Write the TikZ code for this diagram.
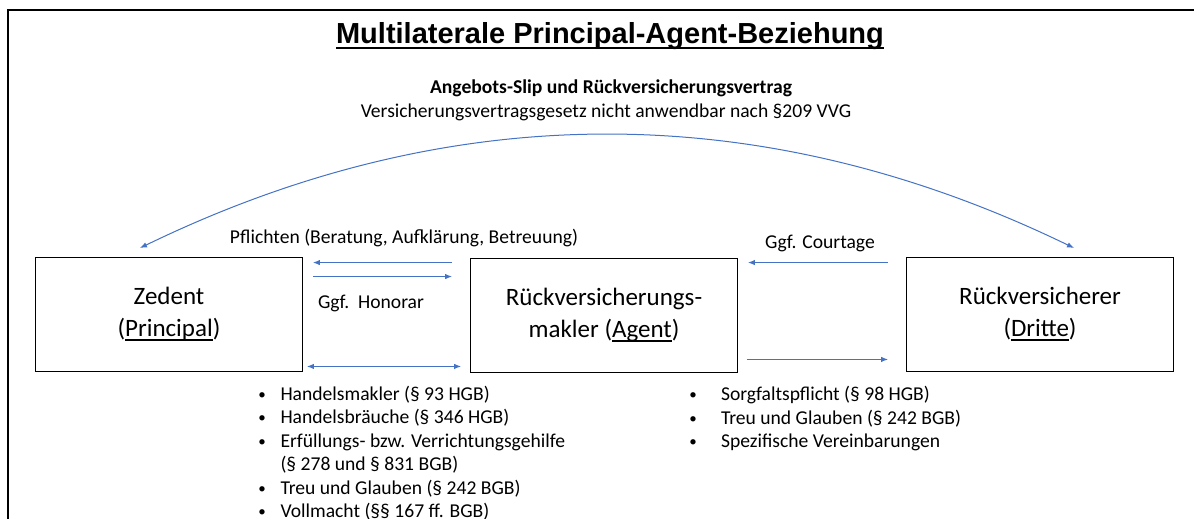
\documentclass[tikz,border=0pt]{standalone}
\usepackage{fontspec}
\setmainfont{Carlito}
\newfontfamily\headfont{Liberation Sans}
\usetikzlibrary{positioning,arrows.meta,calc}
\definecolor{flowblue}{RGB}{68,114,196}
% underline: thickness, depth below baseline, text
\newcommand\ulbox[3]{\leavevmode\setbox0\hbox{#3}\rlap{\rule[-#2]{\wd0}{#1}}\box0}
% small list bullet
\newcommand\dotmark{\makebox[9.8pt]{\raisebox{1pt}{\fontsize{15}{15}\selectfont •}}}

\begin{document}
\begin{tikzpicture}[
    x=1pt, y=-1pt,
    >={Latex[length=7pt,width=5.5pt]},
    party/.style={
        draw,
        line width=0.9pt,
        align=center,
        font=\fontsize{25}{32}\selectfont,
        minimum width=267pt,
        minimum height=114pt
    },
    flow/.style={draw=flowblue, line width=1pt},
    flowtext/.style={
        font=\fontsize{19.6}{23.5}\selectfont,
        inner sep=0pt
    },
    bullets/.style={
        font=\fontsize{19.6}{23.5}\selectfont,
        inner sep=0pt,
        anchor=north west,
        align=left
    }
]

\useasboundingbox (0,0) rectangle (1194,519);
\clip (0,0) rectangle (1194,519);

% FRAME
\draw[line width=2.2pt] (8,530) -- (8,10) -- (1200,10);

% HEADINGS
\node[font=\headfont\bfseries\fontsize{29}{34}\selectfont] (title) at (610,36)
{\ulbox{2.4pt}{6pt}{Multilaterale Principal-Agent-Beziehung}};

\node[flowtext, font=\bfseries\fontsize{19.6}{23.5}\selectfont] (slip) at (611,88)
{Angebots-Slip und Rückversicherungsvertrag};

\node[flowtext] (vvg) at (606,112)
{Versicherungsvertragsgesetz nicht anwendbar nach §209 VVG};

% THE THREE PARTIES
\node[party] (zedent) at (169,314)
{Zedent\\(\ulbox{1.2pt}{4pt}{Principal})};

\node[party] (makler) at (604,315)
{Rückversicherungs-\\makler (\ulbox{1.2pt}{4pt}{Agent})};

\node[party] (dritte) at (1040,314)
{Rückversicherer\\(\ulbox{1.2pt}{4pt}{Dritte})};

% CONTRACT ARC
\coordinate (arcL) at (140,248);
\coordinate (arcR) at (1074,248);
\draw[flow,<->] (arcL) .. controls (451,97) and (763,97) .. (arcR);

% ZEDENT - MAKLER
\draw[flow,<-,shorten <=10pt,shorten >=18pt] ([yshift=-6pt]zedent.north east) -- ([yshift=-6pt]makler.north west |- zedent.north);
\draw[flow,->,shorten <=10pt,shorten >=18pt] ([yshift=-20pt]zedent.north east) -- ([yshift=-20pt]makler.north west |- zedent.north);
\draw[flow,<->,shorten <=4pt,shorten >=9pt] ([yshift=5pt]zedent.south east) -- ([yshift=5pt]makler.south west |- zedent.south);

\node[flowtext] (duties) at (404,238)
{Pflichten (Beratung, Aufklärung, Betreuung)};
\node[flowtext] (fee) at (371,303)
{Ggf.\ \ Honorar};

% MAKLER - DRITTE
\draw[flow,<-,shorten <=10pt,shorten >=18pt] ([yshift=-6pt]makler.north east |- dritte.north) -- ([yshift=-6pt]dritte.north west);
\draw[flow,->,shorten <=9pt,shorten >=18pt] ([yshift=12pt]makler.south east |- dritte.south) -- ([yshift=12pt]dritte.south west);

\node[flowtext] (courtage) at (820,243)
{Ggf. Courtage};

% LEGAL BASES
\node[bullets] (brokerlist) at (257,383.5)
{\begin{tabular}{@{}l@{\hspace{13.5pt}}l@{}}
\dotmark & Handelsmakler (§ 93 HGB)\\
\dotmark & Handelsbräuche (§ 346 HGB)\\
\dotmark & Erfüllungs- bzw. Verrichtungsgehilfe\\
         & (§ 278 und § 831 BGB)\\
\dotmark & Treu und Glauben (§ 242 BGB)\\
\dotmark & Vollmacht (§§ 167 ff. BGB)
\end{tabular}};

\node[bullets] (reinslist) at (688,384)
{\begin{tabular}{@{}l@{\hspace{23pt}}l@{}}
\dotmark & Sorgfaltspflicht (§ 98 HGB)\\
\dotmark & Treu und Glauben (§ 242 BGB)\\
\dotmark & Spezifische Vereinbarungen
\end{tabular}};

\end{tikzpicture}
\end{document}
